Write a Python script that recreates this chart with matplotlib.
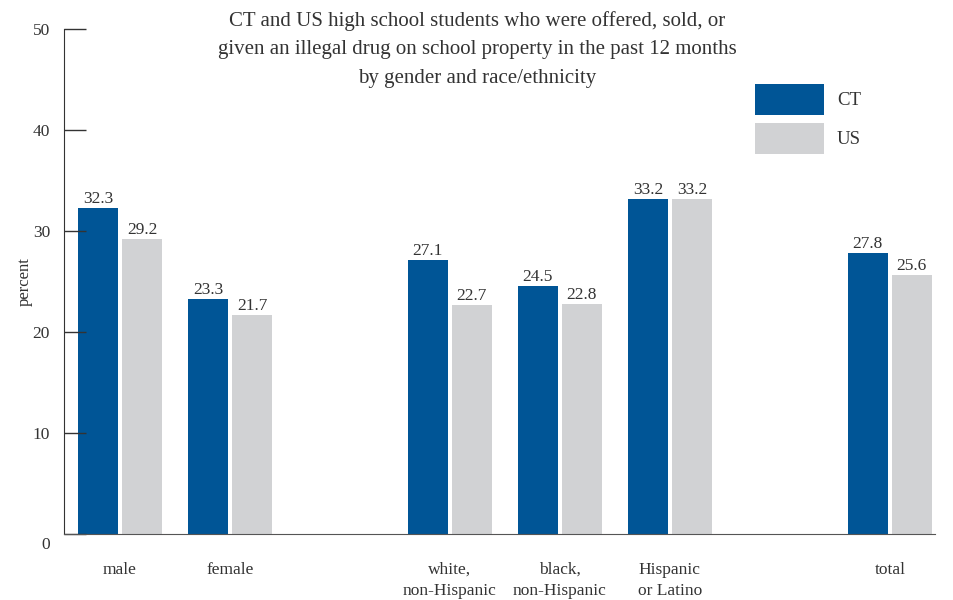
import numpy as np
import matplotlib
matplotlib.use("Agg")
import matplotlib.pyplot as plt

# data
categories = ["male", "female", "white,\nnon-Hispanic", "black,\nnon-Hispanic", "Hispanic\nor Latino", "total"]
slots = [0, 1, 3, 4, 5, 7]
ct_values = [32.3, 23.3, 27.1, 24.5, 33.2, 27.8]
us_values = [29.2, 21.7, 22.7, 22.8, 33.2, 25.6]
y_ticks = [0, 10, 20, 30, 40, 50]

ct_color = "#005596"
us_color = "#d1d2d4"
text_color = "#333333"

plt.rcParams['font.family'] = ['Liberation Serif', 'DejaVu Serif']

fig = plt.figure(figsize=(9.54, 6), dpi=100)
ax = fig.add_axes([0.067, 0.11, 0.913, 0.842])

x = np.array(slots, dtype=float)
w = 0.36
b1 = ax.bar(x - 0.2, ct_values, w, color=ct_color, label="CT")
b2 = ax.bar(x + 0.2, us_values, w, color=us_color, label="US")

for bars, vals in [(b1, ct_values), (b2, us_values)]:
    for r, v in zip(bars, vals):
        ax.text(r.get_x() + r.get_width() / 2, v + 0.1, f"{v:.1f}",
                ha="center", va="bottom", fontsize=12.5, color=text_color)

ax.set_xlim(-0.51, 7.41)
ax.set_ylim(0, 50)
ax.set_yticks(y_ticks)
# the zero label sits a bit lower in the original
ax.set_yticklabels([""] + [str(t) for t in y_ticks[1:]])
ax.annotate("0", xy=(0, 0), xycoords=("axes fraction", "data"),
            xytext=(-10, -8), textcoords="offset points",
            ha="right", va="center", fontsize=12.5, color=text_color)
ax.tick_params(axis="y", direction="in", length=16, width=1, color="#333333",
               labelsize=12.5, labelcolor=text_color, pad=10)
ax.set_xticks(x)
ax.set_xticklabels(categories, fontsize=12.5, color=text_color, linespacing=1.4)
ax.tick_params(axis="x", length=0, pad=20)
for lbl in ax.get_xticklabels():
    lbl.set_verticalalignment("top")

ax.spines["top"].set_visible(False)
ax.spines["right"].set_visible(False)
ax.spines["left"].set_color("#333333")
ax.spines["bottom"].set_color("#555555")

ax.set_ylabel("percent", fontsize=12, color=text_color)
ax.yaxis.set_label_coords(-0.036, 0.5)

fig.text(0.5, 0.982,
         "CT and US high school students who were offered, sold, or\n"
         "given an illegal drug on school property in the past 12 months\n"
         "by gender and race/ethnicity",
         ha="center", va="top", fontsize=15, color=text_color, linespacing=1.68)

leg = ax.legend(loc="upper left", bbox_to_anchor=(0.794, 0.891), frameon=False,
                fontsize=13.5, handlelength=3.65, handleheight=2.2,
                labelspacing=0.4, handletextpad=0.7, borderaxespad=0,
                borderpad=0)
for t in leg.get_texts():
    t.set_color(text_color)

fig.savefig("out.png", dpi=100)
